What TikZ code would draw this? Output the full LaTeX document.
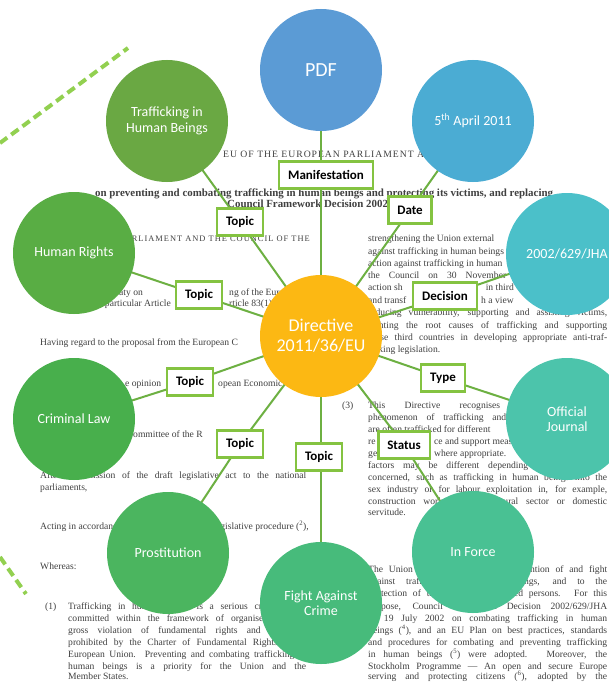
\documentclass[tikz,border=0pt]{standalone}
\usepackage{fontspec}
\setmainfont{Liberation Serif}
\newfontfamily\calib{Carlito}
\definecolor{cpdf}{HTML}{5B9BD5}
\definecolor{capr}{HTML}{4BACD3}
\definecolor{cjha}{HTML}{4BC0C9}
\definecolor{coj}{HTML}{4CC4AB}
\definecolor{cinf}{HTML}{49C193}
\definecolor{cfac}{HTML}{47BB7B}
\definecolor{cpro}{HTML}{4BB55F}
\definecolor{ccl}{HTML}{48AF4C}
\definecolor{chr}{HTML}{59AD44}
\definecolor{ctraf}{HTML}{6AA843}
\definecolor{cdir}{HTML}{FCB813}
\definecolor{boxgreen}{HTML}{84C341}
\definecolor{linegreen}{HTML}{6DB042}
\definecolor{dashgreen}{HTML}{92D050}
\definecolor{doctext}{HTML}{404040}
\pgfdeclarelayer{bgtext}
\pgfdeclarelayer{edges}
\pgfsetlayers{bgtext,edges,main}
\newcounter{docl}
\newcommand\docline[3]{\stepcounter{docl}\node[doc] (doc\thedocl) at (#1,#2) {#3};}
\newcommand\docright[3]{\stepcounter{docl}\node[doc, anchor=base east] (doc\thedocl) at (#1,#2) {#3};}
\newcommand\docjust[4]{\stepcounter{docl}\node[doc] (doc\thedocl) at (#1,#2) {\makebox[#3pt][s]{#4}};}
\tikzset{
  bub/.style={circle, inner sep=0pt, minimum size=122pt, text=white, align=center,
    font=\calib\fontsize{14}{15.5}\selectfont},
  lbl/.style={draw=boxgreen, line width=2.5pt, fill=white, text=black,
    font=\calib\bfseries\fontsize{13}{15}\selectfont, inner xsep=9pt, minimum height=27pt},
  link/.style={draw=linegreen, line width=2pt},
  doc/.style={anchor=base west, inner sep=0pt, text=doctext, font=\fontsize{9.6}{11}\selectfont},
  dashln/.style={draw=dashgreen, line width=4pt, dash pattern=on 9pt off 5pt},
}
\begin{document}
\begin{tikzpicture}[x=1pt,y=-1pt]
\useasboundingbox (0,0) rectangle (608,682);
\begin{pgfonlayer}{bgtext}
\fill[white] (0,0) rectangle (608,682);
% title
\node[doc, font=\fontsize{9.7}{11}\selectfont\addfontfeatures{LetterSpace=10}] (title1) at (223,157) {EU OF THE EUROPEAN PARLIAMENT A};
\node[doc, font=\bfseries\fontsize{10.9}{12}\selectfont] (title2) at (95,196) {on preventing and combating trafficking in human beings and protecting its victims, and replacing};
\node[doc, font=\bfseries\fontsize{10.9}{12}\selectfont] (title3) at (227,207) {Council Framework Decision 2002};
\node[doc, anchor=base east, font=\fontsize{8.4}{10}\selectfont\addfontfeatures{LetterSpace=12}] (title4) at (310,241) {PARLIAMENT AND THE COUNCIL OF THE};
% left column
\docline{106}{295}{Treaty on}
\docline{229}{295}{ng of the European}
\docright{171}{306}{particular Article}
\docline{229}{306}{rticle 83(1)}
\docline{40}{345}{Having regard to the proposal from the European C}
\docline{125}{386}{e opinion}
\docline{218}{386}{opean Economic}
\docline{133}{437}{ommittee of the R}
\docjust{40}{478}{266}{After transmission of the draft legislative act to the national}
\docline{40}{490}{parliaments,}
\docline{40}{529}{Acting in accordance}
\docright{309}{529}{legislative procedure (\textsuperscript{2}),}
\docline{40}{569}{Whereas:}
\docline{45}{609}{(1)}
\docjust{68}{609}{238}{Trafficking in human beings is a serious crime, \phantom{often}}
\docjust{68}{621}{238}{committed within the framework of organised \phantom{crime, a}}
\docjust{68}{633}{238}{gross violation of fundamental rights and \phantom{explicitly}}
\docjust{68}{645}{238}{prohibited by the Charter of Fundamental Rights \phantom{of the}}
\docjust{68}{657}{238}{European Union. Preventing and combating trafficking in}
\docjust{68}{669}{238}{human beings is a priority for the Union and the}
\docline{68}{679.5}{Member States.}
% right column
\docline{368}{241}{strengthening the Union external}
\docline{368}{254}{against trafficking in human beings}
\docline{368}{266}{action against trafficking in human}
\docjust{368}{278}{138}{the Council on 30 November}
\docline{368}{290}{action sh}
\docright{514}{290}{in third}
\docline{368}{303}{and transf}
\docline{481}{303}{h a view}
\docjust{368}{315}{239}{reducing vulnerability, supporting and assisting victims,}
\docjust{368}{328}{239}{fighting the root causes of trafficking and supporting}
\docjust{368}{340}{239}{those third countries in developing appropriate anti-traf-}
\docline{368}{352}{ficking legislation.}
\docline{342}{408}{(3)}
\docjust{368}{408}{132}{This Directive recognises}
\docjust{368}{420}{138}{phenomenon of trafficking and}
\docline{368}{432}{are often trafficked for different}
\docline{368}{444}{re}
\docline{434}{444}{ce and support measures}
\docline{368}{456}{ge}
\docline{434}{456}{where appropriate.}
\docjust{368}{468}{160}{factors may be different depending}
\docjust{368}{480}{239}{concerned, such as trafficking in human beings into the}
\docjust{368}{492}{239}{sex industry or for labour exploitation in, for example,}
\docjust{368}{504}{239}{construction work, the agricultural sector or domestic}
\docline{368}{515}{servitude.}
\docjust{368}{572}{239}{The Union is committed to the prevention of and fight}
\docjust{368}{584}{239}{against trafficking in human beings, and to the}
\docjust{368}{596}{239}{protection of the rights of trafficked persons. For this}
\docjust{368}{609}{239}{purpose, Council Framework Decision 2002/629/JHA}
\docjust{368}{621}{239}{of 19 July 2002 on combating trafficking in human}
\docjust{368}{633}{239}{beings (\textsuperscript{4}), and an EU Plan on best practices, standards}
\docjust{368}{645.5}{239}{and procedures for combating and preventing trafficking}
\docjust{368}{657.5}{239}{in human beings (\textsuperscript{5}) were adopted. Moreover, the}
\docjust{368}{669}{239}{Stockholm Programme --- An open and secure Europe}
\docjust{368}{679.5}{239}{serving and protecting citizens (\textsuperscript{6}), adopted by the}
% dashed decorations
\coordinate (da1) at (0,143);
\coordinate (da2) at (128,48);
\coordinate (db1) at (0,557);
\coordinate (db2) at (26,594);
\draw[dashln] (da1) -- (da2);
\draw[dashln] (db1) -- (db2);
\end{pgfonlayer}

% circles
\node[bub, fill=cpdf, font=\calib\fontsize{20}{22}\selectfont] (pdf) at (321,70) {PDF};
\node[bub, fill=ctraf] (traf) at (167,121) {Trafficking in\\Human Beings};
\node[bub, fill=capr] (apr) at (473,121) {5\textsuperscript{th} April 2011};
\node[bub, fill=cjha] (jha) at (567,254) {2002/629/JHA};
\node[bub, fill=chr] (hr) at (74,253) {Human Rights};
\node[bub, fill=cdir, font=\calib\fontsize{18}{20}\selectfont] (dir) at (321,336) {Directive\\2011/36/EU};
\node[bub, fill=ccl] (cl) at (74,419) {Criminal Law};
\node[bub, fill=coj] (oj) at (567,419) {Official\\Journal};
\node[bub, fill=cpro] (pro) at (168,553) {Prostitution};
\node[bub, fill=cinf] (inf) at (473,552) {In Force};
\node[bub, fill=cfac] (fac) at (321,603) {Fight Against\\Crime};

% labels
\node[lbl] (man) at (326,175) {Manifestation};
\node[lbl] (date) at (410,210) {Date};
\node[lbl] (tp1) at (240,222) {Topic};
\node[lbl] (tp2) at (199,295) {Topic};
\node[lbl] (dec) at (445,296) {Decision};
\node[lbl] (tp3) at (190,382) {Topic};
\node[lbl] (typ) at (443,378) {Type};
\node[lbl] (tp4) at (240,444) {Topic};
\node[lbl] (sta) at (404,445) {Status};
\node[lbl] (tp5) at (319,457) {Topic};

% connectors
\begin{pgfonlayer}{edges}
\draw[link] (dir.center) -- (pdf.center);
\draw[link] (dir.center) -- (date.center) -- (apr.center);
\draw[link] (dir.center) -- (tp1.center) -- (traf.center);
\draw[link] (dir.center) -- (tp2.center) -- (hr.center);
\draw[link] (dir.center) -- (dec.center) -- (jha.center);
\draw[link] (dir.center) -- (tp3.center) -- (cl.center);
\draw[link] (dir.center) -- (typ.center) -- (oj.center);
\draw[link] (dir.center) -- (tp4.center) -- (pro.center);
\draw[link] (dir.center) -- (sta.center) -- (inf.center);
\draw[link] (dir.center) -- (fac.center);
\end{pgfonlayer}
\end{tikzpicture}
\end{document}
